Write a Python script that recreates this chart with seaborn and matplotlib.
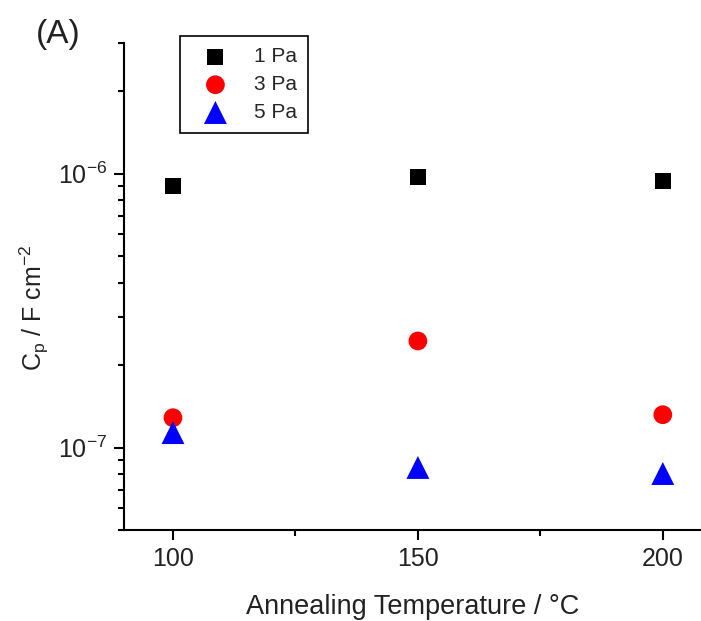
import math
import matplotlib
matplotlib.use("Agg")
import matplotlib.pyplot as plt
import seaborn as sns
import pandas as pd
from matplotlib.ticker import FixedLocator, FuncFormatter, LogLocator, NullFormatter

temperatures = [100, 150, 200]
series_labels = ["1 Pa", "3 Pa", "5 Pa"]
cp_1pa = [9.04e-7, 9.75e-7, 9.43e-7]
cp_3pa = [1.285e-7, 2.45e-7, 1.318e-7]
cp_5pa = [1.134e-7, 0.846e-7, 0.804e-7]
x_ticks = [100, 150, 200]

sns.set_theme(style="ticks")
plt.rcParams["font.family"] = ["Liberation Sans", "DejaVu Sans"]
plt.rcParams["mathtext.fontset"] = "custom"
plt.rcParams["mathtext.rm"] = "Liberation Sans"
plt.rcParams["mathtext.it"] = "Liberation Sans:italic"

fig = plt.figure(figsize=(7.01, 6.21), dpi=100)
ax = fig.add_axes([124/701, 1-530/621, 1-124/701, (530-43)/621])

styles = [("s", "black", 11.5), ("o", "red", 13.5), ("^", "blue", 16.5)]
for vals, lab, (mk, col, ms) in zip([cp_1pa, cp_3pa, cp_5pa], series_labels, styles):
    df = pd.DataFrame({"T": temperatures, "Cp": vals})
    sns.scatterplot(data=df, x="T", y="Cp", marker=mk, color=col, s=ms**2,
                    edgecolor="none", linewidth=0, label=lab, ax=ax, zorder=3)

ax.set_yscale("log")
ax.set_ylim(5e-8, 3e-6)
ax.set_xlim(90, 207.8)
ax.xaxis.set_major_locator(FixedLocator(x_ticks))
ax.xaxis.set_minor_locator(FixedLocator([125, 175]))
ax.yaxis.set_major_locator(FixedLocator([1e-7, 1e-6]))
ax.yaxis.set_minor_locator(LogLocator(base=10, subs=range(2, 10)))
ax.yaxis.set_minor_formatter(NullFormatter())
ax.yaxis.set_major_formatter(FuncFormatter(
    lambda v, p: r"10$^{\mathregular{%d}}$" % round(math.log10(v))))

for s in ["top", "right"]:
    ax.spines[s].set_visible(False)
for s in ["left", "bottom"]:
    ax.spines[s].set_linewidth(1.5)
    ax.spines[s].set_color("black")

ax.tick_params(axis="both", which="major", length=7, width=1.5, direction="out",
               labelsize=18, colors="black", labelcolor="#222222", pad=5)
ax.tick_params(axis="both", which="minor", length=4, width=1.5, direction="out",
               colors="black")

ax.set_xlabel("Annealing Temperature / °C", fontsize=19.5, color="#222222", labelpad=17)
ax.set_ylabel(r"C$_\mathregular{p}$ / F cm$^\mathregular{-2}$", fontsize=18,
              color="#222222")
ax.yaxis.set_label_coords(-0.127, 0.456)

leg = ax.legend(loc="upper left", bbox_to_anchor=((180-124)/577, 1 + 7/487),
                borderaxespad=0, frameon=True, fancybox=False, shadow=False,
                fontsize=15, handletextpad=0.7, borderpad=0.55, labelspacing=0.42,
                markerscale=1.0, handlelength=2.3)
leg.get_frame().set_edgecolor("black")
leg.get_frame().set_linewidth(1.2)
leg.get_frame().set_alpha(1)

fig.text(36/701, 1-35/621, "(A)", fontsize=24, color="#222222", va="center", ha="left")

fig.savefig("out.png", dpi=100)
